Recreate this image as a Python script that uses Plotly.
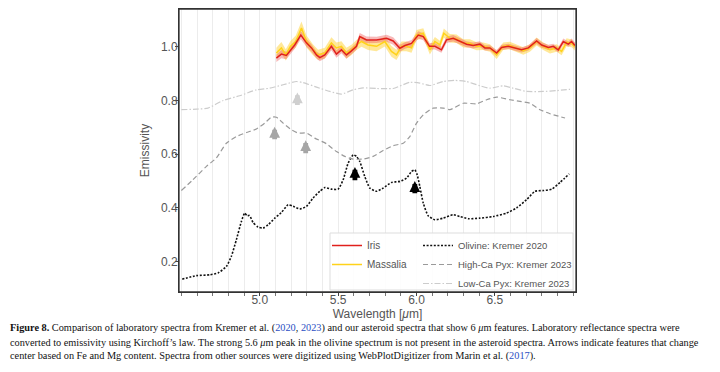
import plotly.graph_objects as go

# ---------------- data ----------------
olivine_wl = [4.506, 4.596, 4.681, 4.734, 4.787, 4.819, 4.851, 4.883, 4.904, 4.919, 4.935, 4.957, 4.989,
              5.021, 5.053, 5.096, 5.138, 5.181, 5.213, 5.255, 5.298, 5.340, 5.383, 5.415, 5.457, 5.500,
              5.532, 5.564, 5.596, 5.617, 5.638, 5.670, 5.702, 5.745, 5.787, 5.840, 5.894, 5.936, 5.968,
              5.989, 6.004, 6.021, 6.043, 6.074, 6.117, 6.170, 6.234, 6.277, 6.330, 6.404, 6.489, 6.574,
              6.638, 6.702, 6.755, 6.809, 6.862, 6.915, 6.974]
olivine_em = [0.135, 0.148, 0.151, 0.158, 0.182, 0.220, 0.282, 0.350, 0.381, 0.371, 0.372, 0.346, 0.329,
              0.325, 0.337, 0.362, 0.383, 0.412, 0.406, 0.396, 0.406, 0.437, 0.462, 0.476, 0.470, 0.470,
              0.505, 0.567, 0.598, 0.592, 0.573, 0.517, 0.474, 0.462, 0.474, 0.495, 0.499, 0.511, 0.536,
              0.542, 0.524, 0.480, 0.418, 0.371, 0.356, 0.362, 0.375, 0.368, 0.360, 0.362, 0.368, 0.381,
              0.400, 0.431, 0.462, 0.465, 0.470, 0.495, 0.527]

highca_wl = [4.500, 4.574, 4.660, 4.723, 4.787, 4.851, 4.915, 4.979, 5.032, 5.074, 5.106, 5.149, 5.202,
             5.245, 5.298, 5.351, 5.426, 5.489, 5.543, 5.596, 5.660, 5.723, 5.787, 5.851, 5.915, 5.957,
             6.000, 6.043, 6.106, 6.170, 6.213, 6.298, 6.383, 6.447, 6.511, 6.596, 6.660, 6.723, 6.787,
             6.851, 6.947]
highca_em = [0.465, 0.505, 0.555, 0.586, 0.641, 0.666, 0.681, 0.694, 0.716, 0.738, 0.738, 0.716, 0.691,
             0.679, 0.679, 0.660, 0.639, 0.610, 0.592, 0.582, 0.582, 0.592, 0.614, 0.632, 0.641, 0.666,
             0.716, 0.747, 0.772, 0.772, 0.766, 0.790, 0.788, 0.803, 0.813, 0.803, 0.797, 0.790, 0.766,
             0.751, 0.735]

lowca_wl = [4.500, 4.596, 4.670, 4.766, 4.872, 4.979, 5.064, 5.149, 5.234, 5.277, 5.362, 5.447, 5.521,
            5.596, 5.660, 5.745, 5.851, 5.957, 6.021, 6.085, 6.170, 6.245, 6.319, 6.404, 6.468, 6.553,
            6.617, 6.702, 6.809, 6.894, 6.979]
lowca_em = [0.766, 0.768, 0.772, 0.800, 0.818, 0.840, 0.846, 0.859, 0.871, 0.867, 0.850, 0.834, 0.824,
            0.840, 0.847, 0.845, 0.845, 0.868, 0.865, 0.856, 0.871, 0.875, 0.871, 0.855, 0.846, 0.855,
            0.846, 0.834, 0.834, 0.837, 0.842]

iris_wl = [5.106, 5.138, 5.170, 5.191, 5.223, 5.262, 5.298, 5.330, 5.362, 5.383, 5.415, 5.457, 5.489,
           5.521, 5.553, 5.585, 5.617, 5.638, 5.681, 5.745, 5.809, 5.851, 5.894, 5.926, 5.968, 6.011,
           6.043, 6.083, 6.117, 6.159, 6.191, 6.234, 6.276, 6.319, 6.361, 6.404, 6.436, 6.468, 6.511,
           6.542, 6.585, 6.627, 6.670, 6.713, 6.766, 6.798, 6.840, 6.872, 6.904, 6.936, 6.968, 6.989,
           7.010]
iris_em = [0.958, 0.973, 0.968, 0.983, 1.007, 1.044, 1.015, 0.996, 0.970, 0.960, 0.970, 1.002, 0.973,
           0.989, 0.970, 0.985, 1.002, 1.038, 1.026, 1.026, 1.032, 1.022, 0.995, 1.005, 1.013, 1.044,
           1.038, 1.002, 1.002, 0.989, 1.026, 1.032, 1.022, 1.010, 1.005, 1.010, 0.996, 0.996, 0.977,
           0.998, 1.002, 0.996, 0.989, 0.996, 1.022, 1.007, 0.998, 1.002, 0.989, 1.020, 1.010, 1.020,
           1.005]
iris_err = [0.014, 0.015, 0.014, 0.013, 0.014, 0.016, 0.015, 0.014, 0.013, 0.014, 0.013, 0.015, 0.014,
            0.013, 0.014, 0.013, 0.013, 0.014, 0.013, 0.012, 0.013, 0.014, 0.013, 0.012, 0.013, 0.014,
            0.013, 0.012, 0.012, 0.011, 0.012, 0.012, 0.011, 0.011, 0.011, 0.011, 0.010, 0.010, 0.011,
            0.010, 0.010, 0.010, 0.010, 0.010, 0.011, 0.010, 0.010, 0.010, 0.010, 0.011, 0.010, 0.011,
            0.011]

mass_wl = [5.106, 5.138, 5.166, 5.196, 5.230, 5.266, 5.298, 5.340, 5.372, 5.415, 5.457, 5.489, 5.521,
           5.553, 5.585, 5.617, 5.649, 5.691, 5.745, 5.798, 5.840, 5.872, 5.904, 5.936, 5.968, 6.000,
           6.043, 6.085, 6.117, 6.149, 6.174, 6.213, 6.255, 6.298, 6.340, 6.383, 6.425, 6.468, 6.511,
           6.553, 6.595, 6.638, 6.681, 6.723, 6.766, 6.808, 6.851, 6.894, 6.925, 6.957, 6.989, 7.010]
mass_em = [0.977, 0.996, 0.970, 1.002, 1.020, 1.070, 1.020, 0.989, 0.970, 0.977, 1.015, 0.996, 1.002,
           0.977, 0.989, 1.007, 1.020, 1.007, 1.002, 1.020, 0.983, 0.970, 1.002, 1.002, 0.996, 1.044,
           1.051, 0.989, 1.020, 1.007, 1.051, 1.032, 1.030, 1.013, 1.013, 1.002, 1.002, 0.996, 0.970,
           1.002, 1.005, 0.996, 0.985, 0.996, 1.020, 1.002, 0.989, 0.996, 0.983, 1.017, 1.013, 1.000]
mass_err = [0.020, 0.022, 0.021, 0.020, 0.022, 0.024, 0.022, 0.020, 0.019, 0.020, 0.021, 0.020, 0.019,
            0.020, 0.019, 0.019, 0.020, 0.019, 0.018, 0.019, 0.020, 0.019, 0.018, 0.018, 0.018, 0.019,
            0.018, 0.017, 0.017, 0.016, 0.017, 0.016, 0.016, 0.015, 0.015, 0.015, 0.014, 0.014, 0.015,
            0.014, 0.014, 0.014, 0.014, 0.014, 0.015, 0.014, 0.014, 0.014, 0.014, 0.015, 0.014, 0.014]

# arrows: wavelength, tail emissivity, head emissivity, colour
arrow_wl = [5.095, 5.293, 5.240, 5.607, 5.989]
arrow_tail = [0.650, 0.598, 0.778, 0.498, 0.449]
arrow_head = [0.702, 0.652, 0.830, 0.553, 0.500]
arrow_col = ["#a6a6a6", "#a6a6a6", "#cfcfcf", "#000000", "#000000"]

x_ticks = [5.0, 5.5, 6.0, 6.5]
y_ticks = [0.2, 0.4, 0.6, 0.8, 1.0]

# ---------------- figure ----------------
# page body has an 8px default margin, so the figure is drawn 8px smaller and
# every pixel target below is given in screenshot pixels minus that offset
OFF = 8
W, H = 720 - OFF, 372 - OFF
ML, MT = 179 - OFF, 9 - OFF
PW, PH = 397, 283
MR, MB = W - ML - PW, H - MT - PH

def px(xs):
    return (xs - OFF - ML) / PW

def py(ys):
    return (MT + PH - (ys - OFF)) / PH

FONT = "Liberation Sans, Arial, sans-serif"
TXT = "#555555"

fig = go.Figure()

# laboratory spectra
fig.add_trace(go.Scatter(x=olivine_wl, y=olivine_em, mode="lines", name="Olivine: Kremer 2020",
                         line=dict(color="#111111", width=1.6, dash="2px,1.6px", shape="spline", smoothing=0.5),
                         legend="legend2"))
fig.add_trace(go.Scatter(x=highca_wl, y=highca_em, mode="lines", name="High-Ca Pyx: Kremer 2023",
                         line=dict(color="#9a9a9a", width=1.2, dash="5px,3px", shape="spline", smoothing=0.5),
                         legend="legend2"))
fig.add_trace(go.Scatter(x=lowca_wl, y=lowca_em, mode="lines", name="Low-Ca Pyx: Kremer 2023",
                         line=dict(color="#cccccc", width=1.2, dash="6px,2px,1.5px,2px", shape="spline", smoothing=0.5),
                         legend="legend2"))

# asteroid bands
iris_hi = [v + e for v, e in zip(iris_em, iris_err)]
iris_lo = [v - e for v, e in zip(iris_em, iris_err)]
mass_hi = [v + e for v, e in zip(mass_em, mass_err)]
mass_lo = [v - e for v, e in zip(mass_em, mass_err)]

fig.add_trace(go.Scatter(x=mass_wl + mass_wl[::-1], y=mass_hi + mass_lo[::-1], fill="toself",
                         fillcolor="rgba(255,210,50,0.5)", line=dict(width=0), mode="lines",
                         hoverinfo="skip", showlegend=False))
fig.add_trace(go.Scatter(x=iris_wl + iris_wl[::-1], y=iris_hi + iris_lo[::-1], fill="toself",
                         fillcolor="rgba(240,100,100,0.45)", line=dict(width=0), mode="lines",
                         hoverinfo="skip", showlegend=False))
fig.add_trace(go.Scatter(x=mass_wl, y=mass_em, mode="lines", name="Massalia",
                         line=dict(color="#ffd21a", width=1.5), legend="legend", legendrank=2))
fig.add_trace(go.Scatter(x=iris_wl, y=iris_em, mode="lines", name="Iris",
                         line=dict(color="#e0201c", width=1.5), legend="legend", legendrank=1))

annotations = []
for xw, yt, yh, c in zip(arrow_wl, arrow_tail, arrow_head, arrow_col):
    annotations.append(dict(x=xw, y=yh, ax=xw, ay=yt, xref="x", yref="y", axref="x", ayref="y",
                            text="", showarrow=True, arrowhead=2, arrowsize=0.45, arrowwidth=4.8,
                            arrowcolor=c, standoff=0))

# caption
BLUE = "#2b4fc4"
cap1 = ("<b>Figure 8.</b> Comparison of laboratory spectra from Kremer et al. (<span style='color:%s'>2020</span>, "
        "<span style='color:%s'>2023</span>) and our asteroid spectra that show 6 <i>μ</i>m features. "
        "Laboratory reflectance spectra were") % (BLUE, BLUE)
cap2 = ("converted to emissivity using Kirchoff’s law. The strong 5.6 <i>μ</i>m peak in the olivine spectrum is not "
        "present in the asteroid spectra. Arrows indicate features that change")
cap3 = ("center based on Fe and Mg content. Spectra from other sources were digitized using WebPlotDigitizer "
        "from Marin et al. (<span style='color:%s'>2017</span>).") % BLUE
for t, yp in [(cap1, 328), (cap2, 342), (cap3, 356)]:
    annotations.append(dict(text=t, x=px(8), y=py(yp), xref="paper", yref="paper", xanchor="left",
                            yanchor="middle", showarrow=False, align="left",
                            font=dict(family="Liberation Serif, Times New Roman, serif", size=10.3, color="#111111")))

shapes = [
    dict(type="rect", xref="paper", yref="paper", x0=px(330), x1=px(573), y0=py(290), y1=py(233),
         line=dict(color="#dddddd", width=1), fillcolor="rgba(255,255,255,0.9)", layer="above"),
    dict(type="rect", xref="paper", yref="paper", x0=0, x1=1, y0=0, y1=1,
         line=dict(color="#333333", width=1.3), layer="above"),
]

fig.update_layout(
    width=W, height=H,
    margin=dict(l=ML, r=MR, t=MT, b=MB, pad=0, autoexpand=False),
    paper_bgcolor="white", plot_bgcolor="white",
    font=dict(family=FONT, color=TXT, size=12),
    showlegend=True,
    legend=dict(x=px(327), y=py(231), xanchor="left", yanchor="top", bgcolor="rgba(0,0,0,0)",
                font=dict(family=FONT, size=10, color=TXT), itemwidth=30, tracegroupgap=0),
    legend2=dict(x=px(418), y=py(231), xanchor="left", yanchor="top", bgcolor="rgba(0,0,0,0)",
                 font=dict(family=FONT, size=9.5, color=TXT), itemwidth=30, tracegroupgap=0),
    annotations=annotations,
    shapes=shapes,
)

fig.update_xaxes(
    range=[4.485, 7.017], tickvals=x_ticks, ticktext=["%.1f" % v for v in x_ticks],
    ticks="outside", ticklen=3, tickcolor="#444444", ticklabelstandoff=-6,
    showgrid=True, gridcolor="#ececec", gridwidth=1,
    minor=dict(dtick=0.1, tick0=5.0, ticks="outside", ticklen=3, tickcolor="#777777",
               showgrid=True, gridcolor="#ececec", gridwidth=1),
    showline=True, mirror=True, linecolor="#333333", linewidth=1, zeroline=False,
    title=dict(text="Wavelength [<i>μ</i>m]", font=dict(size=12, color=TXT), standoff=3),
    tickfont=dict(size=12, color=TXT),
)
fig.update_yaxes(
    range=[0.087, 1.141], tickvals=y_ticks, ticktext=["%.1f" % v for v in y_ticks],
    ticks="outside", ticklen=3, tickcolor="#444444", ticklabelstandoff=-5,
    showgrid=False, zeroline=False,
    showline=True, mirror=True, linecolor="#333333", linewidth=1,
    title=dict(text="Emissivity", font=dict(size=12, color=TXT), standoff=8),
    tickfont=dict(size=12, color=TXT),
)

fig.write_html("out.html")
